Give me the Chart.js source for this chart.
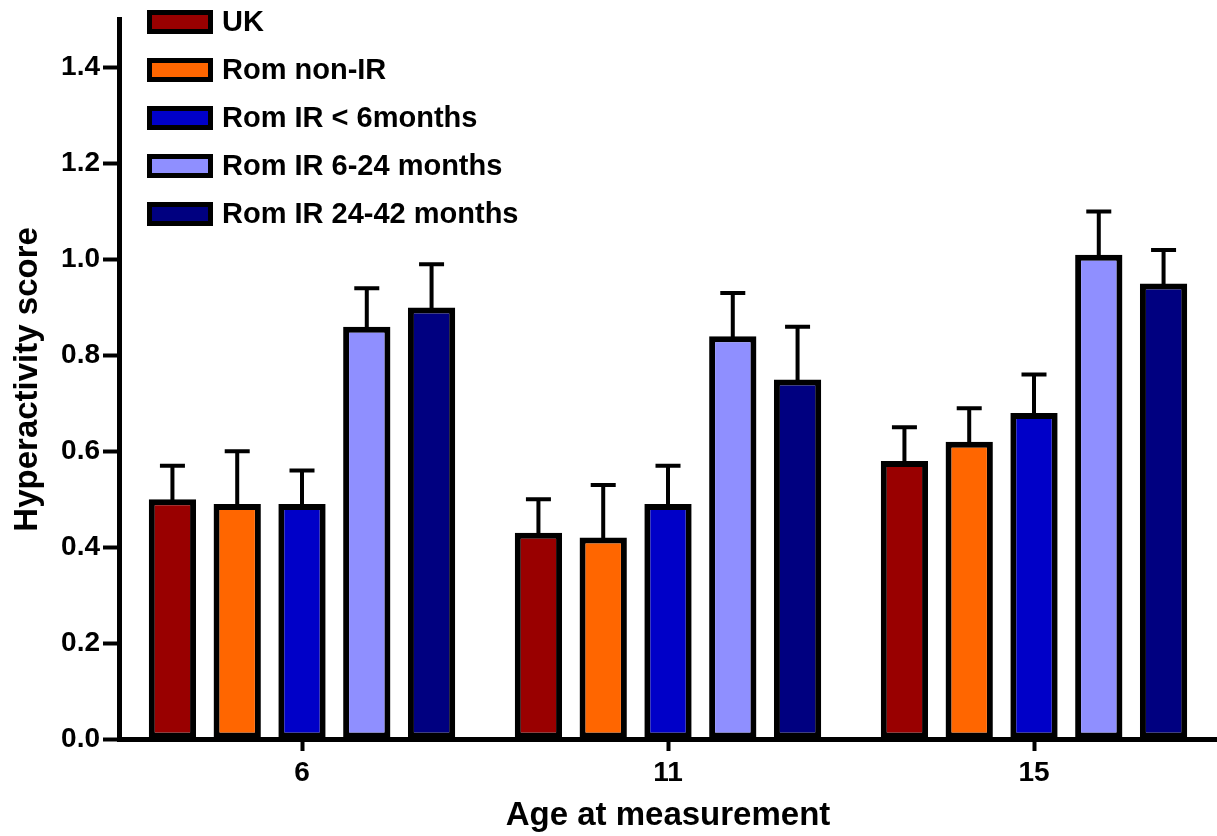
<!DOCTYPE html>
<html>
<head>
<meta charset="utf-8">
<title>Hyperactivity score by age at measurement</title>
<script src="https://cdn.jsdelivr.net/npm/chart.js@4.4.1/dist/chart.umd.min.js"></script>
<style>
  html, body { margin: 0; padding: 0; background: #ffffff; }
  #wrap { width: 1217px; height: 836px; }
</style>
</head>
<body>
<div id="wrap"><canvas id="chart" width="1217" height="836"></canvas></div>
<script>
// Age groups on the x axis
const ages = ['6', '11', '15'];

// Group names
const groupNames = ['UK', 'Rom non-IR', 'Rom IR < 6months', 'Rom IR 6-24 months', 'Rom IR 24-42 months'];

// Mean hyperactivity score per group, one value per age
const ukMean      = [0.50, 0.43, 0.58];
const nonIrMean   = [0.49, 0.42, 0.62];
const ir0to6Mean  = [0.49, 0.49, 0.68];
const ir6to24Mean = [0.86, 0.84, 1.01];
const ir24to42Mean= [0.90, 0.75, 0.95];

// Standard error (upper whisker) per group, one value per age
const ukSem       = [0.07, 0.07, 0.07];
const nonIrSem    = [0.11, 0.11, 0.07];
const ir0to6Sem   = [0.07, 0.08, 0.08];
const ir6to24Sem  = [0.08, 0.09, 0.09];
const ir24to42Sem = [0.09, 0.11, 0.07];

// Y axis tick values
const yTickValues = [0.0, 0.2, 0.4, 0.6, 0.8, 1.0, 1.2, 1.4];

const groupColors = ['#990000', '#ff6600', '#0000c8', '#8f8fff', '#000080'];
const means = [ukMean, nonIrMean, ir0to6Mean, ir6to24Mean, ir24to42Mean];
const sems  = [ukSem, nonIrSem, ir0to6Sem, ir6to24Sem, ir24to42Sem];

const FONT = "'Liberation Sans', Arial, Helvetica, sans-serif";

// Upper error bars (mean + SEM) with a flat cap
const errorBars = {
  id: 'errorBars',
  afterDatasetsDraw(chart) {
    const ctx = chart.ctx;
    const yScale = chart.scales.y;
    ctx.save();
    ctx.strokeStyle = '#000';
    ctx.lineWidth = 4;
    ctx.lineCap = 'butt';
    chart.data.datasets.forEach((ds, di) => {
      const meta = chart.getDatasetMeta(di);
      meta.data.forEach((bar, i) => {
        const top = yScale.getPixelForValue(ds.data[i] + ds.sem[i]);
        const x = bar.x;
        ctx.beginPath();
        ctx.moveTo(x, bar.y + 3);
        ctx.lineTo(x, top);
        ctx.moveTo(x - 12.5, top);
        ctx.lineTo(x + 12.5, top);
        ctx.stroke();
      });
    });
    ctx.restore();
  }
};

// Legend drawn inside the plot, top-left
const boxLegend = {
  id: 'boxLegend',
  afterDraw(chart) {
    const ctx = chart.ctx;
    ctx.save();
    ctx.font = "bold 29px " + FONT;
    ctx.textBaseline = 'middle';
    ctx.textAlign = 'left';
    chart.data.datasets.forEach((ds, i) => {
      const cy = 22 + i * 48;
      const x0 = 147, w = 66, h = 24;
      ctx.fillStyle = ds.backgroundColor;
      ctx.fillRect(x0, cy - h / 2, w, h);
      ctx.lineWidth = 5;
      ctx.strokeStyle = '#000';
      ctx.strokeRect(x0 + 2.5, cy - h / 2 + 2.5, w - 5, h - 5);
      ctx.fillStyle = '#000';
      ctx.fillText(ds.label, 222, cy + 1);
    });
    ctx.restore();
  }
};

const datasets = groupNames.map((name, i) => ({
  label: name,
  data: means[i],
  sem: sems[i],
  backgroundColor: groupColors[i],
  borderColor: '#000',
  borderWidth: 6,
  borderSkipped: false,
  categoryPercentage: 0.885,
  barPercentage: 0.73
}));

new Chart(document.getElementById('chart'), {
  type: 'bar',
  data: { labels: ages, datasets },
  options: {
    responsive: false,
    animation: false,
    devicePixelRatio: 1,
    layout: { padding: { top: 16, right: -4, bottom: 0, left: 0 } },
    plugins: {
      legend: { display: false },
      tooltip: { enabled: false }
    },
    scales: {
      x: {
        offset: true,
        border: { display: true, color: '#000', width: 5 },
        grid: {
          display: true, offset: false, drawOnChartArea: false, drawTicks: true,
          tickLength: 12, tickWidth: 4, tickColor: '#000'
        },
        ticks: { color: '#000', font: { family: FONT, size: 28, weight: 'bold' }, padding: 5 },
        title: {
          display: true, text: 'Age at measurement', color: '#000',
          font: { family: FONT, size: 33, weight: 'bold' }, padding: { top: 0, bottom: 0 }
        },
        afterFit(scale) { scale.height = 97; }
      },
      y: {
        min: 0,
        max: 1.5,
        border: { display: true, color: '#000', width: 5 },
        grid: {
          display: true, drawOnChartArea: false, drawTicks: true,
          tickLength: 16, tickWidth: 4, tickColor: '#000'
        },
        afterBuildTicks(scale) {
          scale.ticks = yTickValues.map(v => ({ value: v }));
        },
        ticks: {
          color: '#000', padding: 3,
          font: { family: FONT, size: 28, weight: 'bold' },
          callback: v => Number(v).toFixed(1)
        },
        title: {
          display: true, text: 'Hyperactivity score', color: '#000',
          font: { family: FONT, size: 33, weight: 'bold' }, padding: { top: 8, bottom: 0 }
        },
        afterFit(scale) { scale.width = 119; }
      }
    }
  },
  plugins: [errorBars, boxLegend]
});
</script>
</body>
</html>
